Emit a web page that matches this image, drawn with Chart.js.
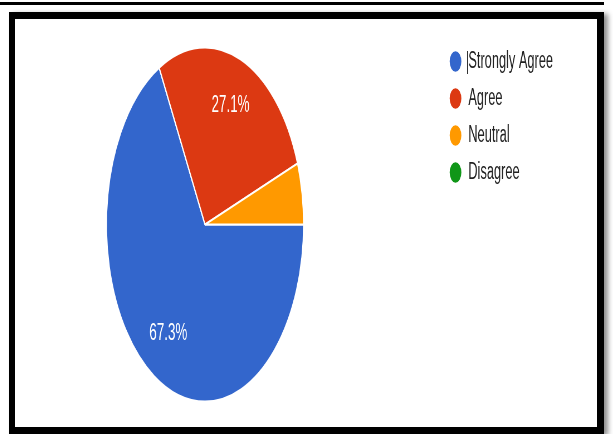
<!DOCTYPE html>
<html>
<head>
<meta charset="utf-8">
<script src="https://cdn.jsdelivr.net/npm/chart.js@4.4.1/dist/chart.umd.min.js"></script>
<style>
    html, body { margin: 0; padding: 0; background: #fff; overflow: hidden; }
    body { width: 613px; height: 434px; position: relative; }
    .topline { position: absolute; left: 0; top: 2px; width: 604px; height: 3px; background: #000; }
    .frame {
        position: absolute; left: 9px; top: 12px; width: 582px; height: 408px;
        border: 7px solid #000; border-left-width: 6px; background: #fff;
        box-shadow: 4px 2px 5px rgba(0, 0, 0, 0.45);
    }
    /* the source picture is squeezed sideways, so the canvas is too */
    .plot { position: absolute; left: -32px; top: 19px; width: 1100px; height: 408px; transform: scaleX(0.557); transform-origin: 0 0; }
    .caret { position: absolute; left: 467px; top: 51px; width: 1px; height: 23px; background: #333; }
</style>
</head>
<body>
<div class="topline"></div>
<div class="frame"></div>
<div class="plot"><canvas id="pieChart" width="1100" height="408"></canvas></div>
<div class="caret"></div>
<script>
// Data
const categories = ['Strongly Agree', 'Agree', 'Neutral', 'Disagree'];
const percentages = [67.3, 27.1, 5.6, 0];
const sliceColors = ['#3366cc', '#dc3912', '#ff9900', '#109618'];

// Layout helpers
const squeeze = 0.557;
const plotLeft = -32;
const canvasWidth = 1100;
const fontFamily = "'Liberation Sans', Arial, sans-serif";
const legendFont = 23;
const legendGap = 14;
const markerWidth = 23;

// where things land on screen (after squeeze)
const pieCenterX = 205;
const markerCenterX = 455.5;

const centerU = (pieCenterX - plotLeft) / squeeze;
const areaRight = (markerCenterX - plotLeft) / squeeze - legendGap - markerWidth / 2;
const padLeft = 2 * centerU - areaRight;

const measure = document.createElement('canvas').getContext('2d');
measure.font = legendFont + 'px ' + fontFamily;
const maxText = Math.max(...categories.map(c => measure.measureText(c).width));
const legendWidth = legendGap + markerWidth + legendFont / 2 + maxText + 10;
const padRight = canvasWidth - areaRight - legendWidth;

// Percent labels inside the big slices
const sliceLabels = {
    id: 'sliceLabels',
    afterDatasetsDraw(chart) {
        const ctx = chart.ctx;
        const meta = chart.getDatasetMeta(0);
        const total = percentages.reduce((a, b) => a + b, 0);
        ctx.save();
        ctx.fillStyle = '#ffffff';
        ctx.font = '24px ' + fontFamily;
        ctx.textAlign = 'center';
        ctx.textBaseline = 'middle';
        meta.data.forEach((arc, i) => {
            const v = percentages[i];
            if (v / total < 0.1) return;
            const p = arc.getProps(['x', 'y', 'startAngle', 'endAngle', 'outerRadius'], true);
            const mid = (p.startAngle + p.endAngle) / 2;
            const r = p.outerRadius * 0.72;
            ctx.fillText(v.toFixed(1) + '%', p.x + Math.cos(mid) * r, p.y + Math.sin(mid) * r);
        });
        ctx.restore();
    }
};

const ctx = document.getElementById('pieChart').getContext('2d');
new Chart(ctx, {
    type: 'pie',
    data: {
        labels: categories,
        datasets: [{
            data: percentages,
            backgroundColor: sliceColors,
            borderColor: '#ffffff',
            borderWidth: 2,
            hoverOffset: 0
        }]
    },
    options: {
        responsive: false,
        animation: false,
        rotation: 90,
        radius: 177,
        layout: {
            padding: { left: padLeft, right: padRight, top: 17, bottom: 14 }
        },
        plugins: {
            tooltip: { enabled: false },
            legend: {
                position: 'right',
                align: 'start',
                labels: {
                    usePointStyle: true,
                    pointStyle: 'circle',
                    pointStyleWidth: markerWidth,
                    boxHeight: 16,
                    padding: legendGap,
                    color: '#222222',
                    font: { size: legendFont, family: fontFamily }
                }
            }
        }
    },
    plugins: [sliceLabels]
});
</script>
</body>
</html>
